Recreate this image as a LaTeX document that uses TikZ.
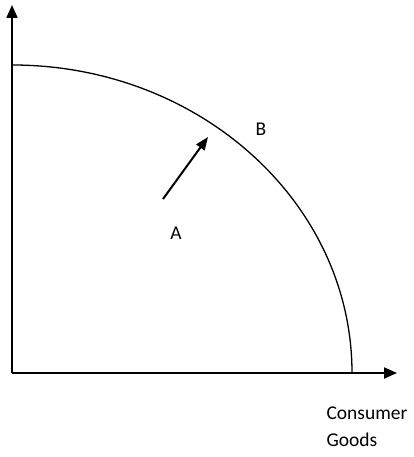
\documentclass[tikz,border=0pt]{standalone}
\usepackage{fontspec}
\setmainfont{Carlito}
\usetikzlibrary{arrows.meta}
\begin{document}
\begin{tikzpicture}[x=1pt,y=1pt,
  axis/.style={line width=1.8pt,-{Triangle[length=13pt,width=11pt]}},
  lbl/.style={font=\fontsize{19.5}{27}\selectfont}]
\useasboundingbox (0,0) rectangle (414,457);
\coordinate (O) at (12,84);
\coordinate (ytop) at (12,452);
\coordinate (xend) at (397,84);
\coordinate (ppfstart) at (12,392);
\coordinate (shiftstart) at (163,258);
\coordinate (shiftend) at (208,320);

\draw[axis] (O)--(ytop);
\draw[axis] (O)--(xend);
\draw[line width=1.3pt] (ppfstart) arc[start angle=90,end angle=0,x radius=340,y radius=308];
\draw[line width=2pt,-{Triangle[length=13pt,width=10pt]}] (shiftstart)--(shiftend);

\node[lbl] (b) at (261,328) {B};
\node[lbl] (a) at (176,224) {A};
\node[lbl,align=left,anchor=west] (cons) at (323,30) {Consumer\\Goods};
\end{tikzpicture}
\end{document}
